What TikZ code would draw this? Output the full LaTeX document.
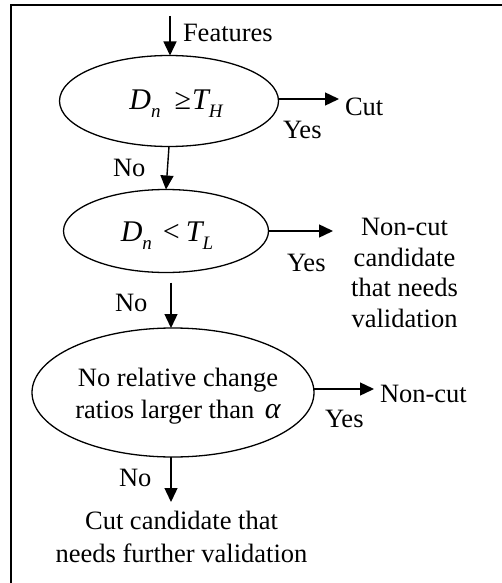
\documentclass[tikz,border=0pt]{standalone}
\usepackage{fontspec}
\setmainfont{Liberation Serif}
\usetikzlibrary{shapes.geometric,arrows.meta}
\newcommand{\subit}[1]{\raisebox{-8pt}{\fontsize{19}{19}\selectfont\itshape #1}}
\begin{document}
\begin{tikzpicture}[x=1pt,y=-1pt,
  every node/.style={font=\fontsize{26.5}{31}\selectfont, inner sep=0pt, outer sep=0pt},
  dec/.style={draw, ellipse, line width=1.3pt, inner sep=0pt},
  arr/.style={line width=1.4pt, -{Triangle[length=14pt,width=13pt]}},
  txt/.style={anchor=base west},
  mth/.style={font=\fontsize{30}{31}\selectfont\itshape, anchor=base}]
\useasboundingbox (0,0) rectangle (502,583);
\draw[line width=2pt] (11,583) -- (11,5) -- (502,5);

% decision ellipses
\node[dec, minimum width=219pt, minimum height=91pt] (e1) at (169,101) {};
\node[dec, minimum width=205pt, minimum height=83pt] (e2) at (166,231) {};
\node[dec, minimum width=282pt, minimum height=129pt] (e3) at (173,392.5) {};

% ellipse texts
\node[mth] (t1) at (176,110) {D\subit{n}\hspace{14pt}{\upshape ≥}\hspace{1pt}T\subit{H}};
\node[mth] (t2) at (167,241) {D\subit{n}\hspace{11pt}{\upshape <}\hspace{6pt}T\subit{L}};
\node[align=center, anchor=north, font=\fontsize{26.5}{31.5}\selectfont] (t3) at (178,368.5) {No relative change\\ratios larger than \hspace{4pt}{\fontsize{30}{31}\selectfont\itshape α}};

% input / outputs
\coordinate (fin) at (170,16);
\node[txt] (feat) at (183,41.7) {Features};
\node[txt] (cut) at (345,115) {Cut};
\node[align=center, anchor=center, font=\fontsize{26.5}{30.6}\selectfont] (ncc) at (404.5,273) {Non-cut\\candidate\\that needs\\validation};
\node[txt] (nc) at (380,402) {Non-cut};
\node[align=center, anchor=center, font=\fontsize{26.5}{32.5}\selectfont] (ccand) at (181.5,537) {Cut candidate that\\needs further validation};

% labels
\node[txt] (y1) at (283,138) {Yes};
\node[txt] (n1) at (113,176) {No};
\node[txt] (y2) at (287,271) {Yes};
\node[txt] (n2) at (115,311) {No};
\node[txt] (y3) at (325,427) {Yes};
\node[txt] (n3) at (119,486) {No};

% connectors
\coordinate (c1) at (339,99);
\coordinate (c2) at (333,231);
\coordinate (c3) at (374,389);
\coordinate (c4) at (171,502);
\draw[arr] (fin) -- (e1.north -| fin);
\draw[arr] (e1.south) -- (e2.north);
\draw[arr] (e1.east |- c1) -- (c1);
\draw[arr] (e2.east) -- (c2);
\draw[arr, shorten <=10pt] (e2.south -| c4) -- (e3.north -| c4);
\draw[arr] (e3.east |- c3) -- (c3);
\draw[arr] (e3.south -| c4) -- (c4);
\end{tikzpicture}
\end{document}
